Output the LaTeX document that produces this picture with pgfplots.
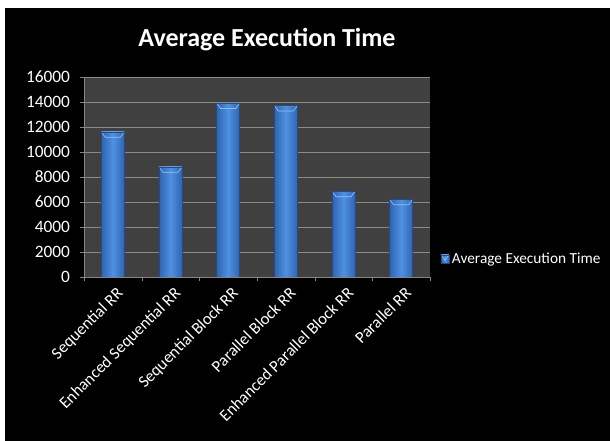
\documentclass[border=0pt]{standalone}
\usepackage{pgfplots}
\pgfplotsset{compat=1.18}
\usepackage{fontspec}
\setmainfont{Carlito}

\definecolor{plotbg}{HTML}{404040}
\definecolor{gridcol}{HTML}{8A8A8A}
\definecolor{axcol}{HTML}{868686}
\definecolor{baredge}{HTML}{234B88}
\definecolor{barside}{HTML}{2F64B0}
\definecolor{barmid}{HTML}{4F91E2}
\definecolor{barcap}{HTML}{8CC0F0}

% one cylinder-like bar: side-to-side shading with a light bevel on top
\tikzset{
  cylbar/.style={
    ybar, bar width=17.25pt, bar shift=0pt,
    draw=baredge, line width=0.5pt,
    left color=barside, right color=barside, middle color=barmid,
    path picture={
      \fill[barcap, path picture={}]
        (path picture bounding box.north west)
        -- (path picture bounding box.north east)
        -- ([xshift=-3pt,yshift=-4pt]path picture bounding box.north east)
        -- ([xshift=3pt,yshift=-4pt]path picture bounding box.north west)
        -- cycle;
    },
  },
}

\begin{document}
\begin{tikzpicture}[x=0.75pt,y=0.75pt]
  % page area and black chart background
  \useasboundingbox (0,0) rectangle (610,441);
  \fill[white] (0,0) rectangle (610,441);
  \fill[black] (5,0) rectangle (610,433);
  % chart title
  \node[text=white, font=\fontsize{19.5}{22}\selectfont\bfseries] at (267,401) {Average Execution Time};

  \begin{axis}[
    at={(63pt,123pt)}, anchor=south west,
    scale only axis,
    width=259.5pt, height=150pt,
    xmin=-0.5, xmax=5.5,
    ymin=0, ymax=16000,
    ytick={0,2000,...,16000},
    xtick={0,...,5},
    xticklabels={Sequential RR, Enhanced Sequential RR, Sequential Block RR, Parallel Block RR, Enhanced Parallel Block RR, Parallel RR},
    minor xtick={-0.5,0.5,...,5.5},
    major x tick style={draw=none},
    minor x tick style={draw=axcol},
    minor tick length=3pt,
    major tick length=3pt,
    tick align=outside,
    axis lines*=left,
    axis line style={draw=axcol, line width=0.6pt},
    y tick style={draw=axcol},
    ymajorgrids,
    grid style={draw=gridcol, line width=0.6pt},
    axis background/.style={fill=plotbg},
    scaled y ticks=false,
    ticklabel style={text=white, font=\fontsize{13}{15}\selectfont},
    yticklabel style={xshift=-4pt, /pgf/number format/.cd, fixed, 1000 sep={}, assume math mode=true},
    xticklabel style={rotate=45, anchor=north east, inner sep=1pt, xshift=0pt, yshift=-3pt,
      font=\fontsize{12.5}{15}\selectfont},
    legend style={at={(rel axis cs:1.03,0.09)}, anchor=west, draw=none, fill=none,
      text=white, font=\fontsize{11.5}{13}\selectfont, inner sep=0pt},
    legend image code/.code={
      \fill[left color=barside, right color=barside, middle color=barmid]
        (0pt,-3pt) rectangle (6pt,3pt);},
  ]
    \addplot[cylbar] coordinates {(0,11600)};
    \addlegendentry{Average Execution Time}
    \addplot[cylbar, forget plot] coordinates {(1,8800)};
    \addplot[cylbar, forget plot] coordinates {(2,13900)};
    \addplot[cylbar, forget plot] coordinates {(3,13700)};
    \addplot[cylbar, forget plot] coordinates {(4,6850)};
    \addplot[cylbar, forget plot] coordinates {(5,6200)};
  \end{axis}
\end{tikzpicture}
\end{document}
